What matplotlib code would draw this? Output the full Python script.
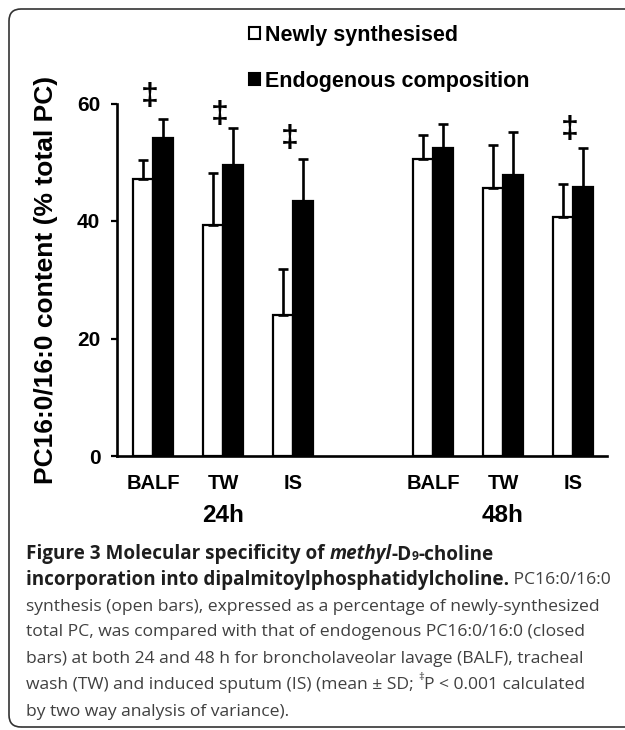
import matplotlib
matplotlib.use("Agg")
import matplotlib.pyplot as plt
from matplotlib.patches import FancyBboxPatch
from matplotlib.transforms import IdentityTransform
import numpy as np

# data
sites = ["BALF", "TW", "IS", "BALF", "TW", "IS"]
times = ["24h", "48h"]
newly = [47.1, 39.4, 24.0, 50.5, 45.6, 40.6]
newly_sd = [3.2, 8.8, 7.9, 4.1, 7.3, 5.7]
endo = [54.2, 49.6, 43.4, 52.4, 47.9, 45.8]
endo_sd = [3.2, 6.3, 7.1, 4.1, 7.3, 6.7]
# double dagger marks: (bar pair index, height)
sig_idx = [0, 1, 2, 5]
sig_y = [61.1, 58.0, 53.9, 55.5]

W, H = 625, 730
plt.rcParams['font.family'] = ['Liberation Sans', 'DejaVu Sans']
plt.rcParams['font.weight'] = 'bold'

fig = plt.figure(figsize=(W/100., H/100.), dpi=100)
ax = fig.add_axes([117./W, 1-456./H, 490./W, 352.5/H])

x = np.array([0, 1, 2, 4, 5, 6], dtype=float)
bw = 0.286
zeros = np.zeros(len(x))
ekw = dict(elinewidth=1.9, capsize=3.5, capthick=1.9, ecolor='black')
b1 = ax.bar(x - bw/2, newly, bw, color='white', edgecolor='black', linewidth=1.6,
            yerr=[zeros, newly_sd], error_kw=ekw, label='Newly synthesised', zorder=2)
b2 = ax.bar(x + bw/2, endo, bw, color='black', edgecolor='black', linewidth=1.6,
            yerr=[zeros, endo_sd], error_kw=ekw, label='Endogenous composition', zorder=2)

for i, yv in zip(sig_idx, sig_y):
    ax.text(x[i] - 0.04, yv, u"\u2021", ha='center', va='center', fontsize=23,
            fontweight='bold', clip_on=False)

ax.set_xlim(-0.514, 6.486)
ax.set_ylim(0, 60)
ax.set_yticks([0, 20, 40, 60])
ax.set_xticks(x)
ax.set_xticklabels(sites)
ax.tick_params(axis='y', direction='out', length=4.5, width=1.6, labelsize=15, pad=7.5)
ax.tick_params(axis='x', length=0, labelsize=14.5, pad=13)
for s in ['top', 'right']:
    ax.spines[s].set_visible(False)
for s in ['left', 'bottom']:
    ax.spines[s].set_linewidth(1.9)

# y label placed by hand, it sits further out than matplotlib would put it
fig.text(46./W, 1-280./H, 'PC16:0/16:0 content (% total PC)', rotation=90,
         ha='center', va='center', fontsize=19, fontweight='bold')

for t, xc in zip(times, [1, 5]):
    ax.text(xc, -59./352.5, t, transform=ax.get_xaxis_transform(), ha='center',
            va='center', fontsize=17.5, fontweight='bold')

leg = fig.legend(handles=[b1, b2], loc='upper left', bbox_to_anchor=(249./W, 1-25./H),
                 frameon=False, fontsize=15.5, handlelength=0.5, handleheight=0.5,
                 handletextpad=0.25, labelspacing=1.15, borderpad=0, borderaxespad=0)
for h in leg.legend_handles:
    h.set_linewidth(1.5)

# caption below the chart
cap_font = ['Open Sans', 'DejaVu Sans']
cap_fs = 12.6
bold_fs = 13.6
dark = '#1e1e1e'
grey = '#404040'
caption = [
    [("Figure 3 Molecular specificity of ", 'bold', 'normal', 0), ("methyl", 'bold', 'italic', 0),
     ("-D", 'bold', 'normal', 0), ("9", 'bold', 'normal', -1), ("-choline", 'bold', 'normal', 0)],
    [("incorporation into dipalmitoylphosphatidylcholine.", 'bold', 'normal', 0),
     (" PC16:0/16:0", 'normal', 'normal', 0)],
    [("synthesis (open bars), expressed as a percentage of newly-synthesized", 'normal', 'normal', 0)],
    [("total PC, was compared with that of endogenous PC16:0/16:0 (closed", 'normal', 'normal', 0)],
    [("bars) at both 24 and 48 h for broncholaveolar lavage (BALF), tracheal", 'normal', 'normal', 0)],
    [("wash (TW) and induced sputum (IS) (mean \u00b1 SD; ", 'normal', 'normal', 0),
     ("\u2021", 'normal', 'normal', 1), ("P < 0.001 calculated", 'normal', 'normal', 0)],
    [("by two way analysis of variance).", 'normal', 'normal', 0)],
]
line_y = [552, 578, 605, 630, 657, 683, 710]

renderer = fig.canvas.get_renderer()
for segs, yl in zip(caption, line_y):
    xp = 26.
    for txt, wt, st, sh in segs:
        fs = bold_fs if wt == 'bold' else cap_fs
        if sh != 0:
            fs = fs*0.65
        yy = yl + (4 if sh < 0 else (-6 if sh > 0 else 0))
        col = dark if wt == 'bold' else grey
        tt = fig.text(xp/W, 1-yy/H, txt, family=cap_font, fontsize=fs, fontweight=wt,
                      fontstyle=st, color=col, ha='left', va='center_baseline' if sh == 0 else 'center')
        xp += tt.get_window_extent(renderer).width

frame = FancyBboxPatch((9, 3), 700, 718, boxstyle="round,pad=0,rounding_size=12",
                       transform=IdentityTransform(), fill=False, edgecolor='#333333',
                       linewidth=1.2)
fig.patches.append(frame)

fig.savefig('out.png', dpi=100)
